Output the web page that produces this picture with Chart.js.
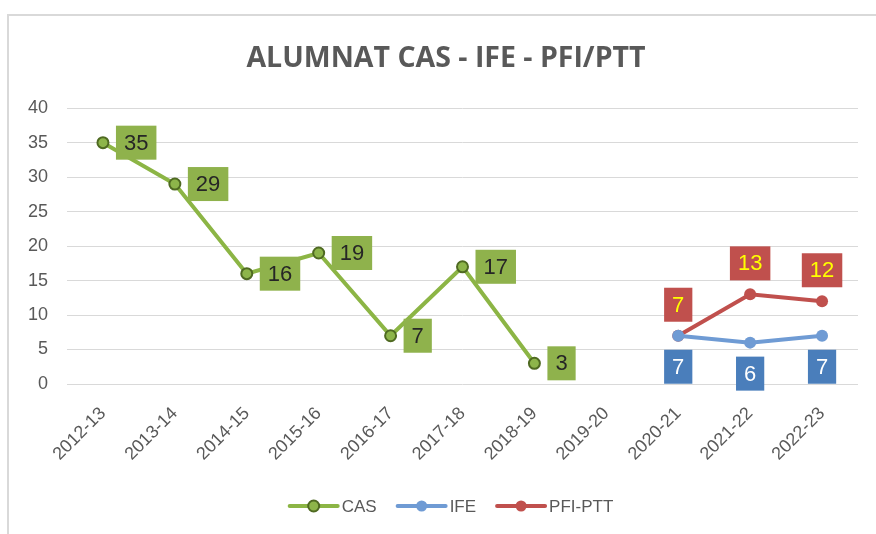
<!DOCTYPE html>
<html>
<head>
<meta charset="utf-8">
<script src="https://cdn.jsdelivr.net/npm/chart.js@4/dist/chart.umd.min.js"></script>
<style>
  html, body { margin: 0; padding: 0; background: #ffffff; overflow: hidden; }
  #frame { position: absolute; left: 7px; top: 14px; width: 900px; height: 600px; border: 2px solid #d9d9d9; box-sizing: border-box; }
  #wrap { position: absolute; left: 0; top: 0; width: 876px; height: 534px; }
</style>
</head>
<body>
<div id="frame"></div>
<div id="wrap"><canvas id="c" width="876" height="534"></canvas></div>
<script>
const categories = ['2012-13','2013-14','2014-15','2015-16','2016-17','2017-18','2018-19','2019-20','2020-21','2021-22','2022-23'];
const casValues = [35, 29, 16, 19, 7, 17, 3, null, null, null, null];
const ifeValues = [null, null, null, null, null, null, null, null, 7, 6, 7];
const pfiValues = [null, null, null, null, null, null, null, null, 7, 13, 12];
const yTicks = [0, 5, 10, 15, 20, 25, 30, 35, 40];

const GRAY = '#595959';
const FONT = '"Liberation Sans", Arial, sans-serif';

const seriesStyle = [
  { line: '#8cb545', fill: '#8db54a', stroke: '#4f6a22', label: { pos: 'right', bg: '#8fb24c', color: '#262626' } },
  { line: '#6f9bd4', fill: '#6f9bd4', stroke: null, label: { pos: 'below', bg: '#4a7ebb', color: '#ffffff' } },
  { line: '#c0504d', fill: '#c0504d', stroke: null, label: { pos: 'above', bg: '#c0504d', color: '#ffff00' } }
];

const dataLabelPlugin = {
  id: 'boxLabels',
  afterDatasetsDraw(chart) {
    const ctx = chart.ctx;
    ctx.save();
    ctx.font = '22px ' + FONT;
    ctx.textBaseline = 'middle';
    ctx.textAlign = 'center';
    chart.data.datasets.forEach((ds, di) => {
      const meta = chart.getDatasetMeta(di);
      const st = seriesStyle[di].label;
      meta.data.forEach((pt, i) => {
        const v = ds.data[i];
        if (v === null || v === undefined) return;
        const txt = String(v);
        const w = ctx.measureText(txt).width + 16;
        const h = 34;
        let bx, by;
        if (st.pos === 'right') { bx = pt.x + 13; by = pt.y - h / 2; }
        else if (st.pos === 'above') { bx = pt.x - w / 2; by = pt.y - 14 - h; }
        else { bx = pt.x - w / 2; by = pt.y + 14; }
        ctx.fillStyle = st.bg;
        ctx.fillRect(bx, by, w, h);
        ctx.fillStyle = st.color;
        ctx.fillText(txt, bx + w / 2, by + h / 2 + 1);
      });
    });
    ctx.restore();
  }
};

const legendPlugin = {
  id: 'customLegend',
  afterDraw(chart) {
    const ctx = chart.ctx;
    ctx.save();
    ctx.font = '17px ' + FONT;
    ctx.textBaseline = 'middle';
    ctx.textAlign = 'left';
    const iconW = 50, gap = 3, itemGap = 20;
    const items = chart.data.datasets.map(ds => ({ text: ds.label, w: ctx.measureText(ds.label).width }));
    const total = items.reduce((a, it) => a + iconW + gap + it.w, 0) + itemGap * (items.length - 1);
    let x = 451 - total / 2;
    const y = 506;
    items.forEach((it, i) => {
      const s = seriesStyle[i];
      ctx.strokeStyle = s.line; ctx.lineWidth = 4; ctx.lineCap = 'round';
      ctx.beginPath(); ctx.moveTo(x + 1, y); ctx.lineTo(x + iconW - 1, y); ctx.stroke();
      ctx.beginPath(); ctx.arc(x + iconW / 2, y, 5.5, 0, Math.PI * 2);
      ctx.fillStyle = s.fill; ctx.fill();
      if (s.stroke) { ctx.lineWidth = 2; ctx.strokeStyle = s.stroke; ctx.stroke(); }
      ctx.fillStyle = GRAY;
      ctx.fillText(it.text, x + iconW + gap, y + 1);
      x += iconW + gap + it.w + itemGap;
    });
    ctx.restore();
  }
};

new Chart(document.getElementById('c'), {
  type: 'line',
  data: {
    labels: categories,
    datasets: [
      { label: 'CAS', data: casValues, borderColor: seriesStyle[0].line, borderWidth: 4,
        pointRadius: 5.5, pointBackgroundColor: seriesStyle[0].fill, pointBorderColor: seriesStyle[0].stroke, pointBorderWidth: 2,
        spanGaps: false, tension: 0 },
      { label: 'IFE', data: ifeValues, borderColor: seriesStyle[1].line, borderWidth: 4,
        pointRadius: 6, pointBackgroundColor: seriesStyle[1].fill, pointBorderWidth: 0, tension: 0 },
      { label: 'PFI-PTT', data: pfiValues, borderColor: seriesStyle[2].line, borderWidth: 4,
        pointRadius: 6, pointBackgroundColor: seriesStyle[2].fill, pointBorderWidth: 0, tension: 0 }
    ]
  },
  options: {
    responsive: false,
    animation: false,
    events: [],
    layout: { padding: { left: 16, right: 0, top: 30, bottom: 58 } },
    plugins: {
      title: {
        display: true,
        text: 'ALUMNAT CAS - IFE - PFI/PTT',
        color: GRAY,
        font: { family: '"Open Sans", "Liberation Sans", sans-serif', size: 28.5, weight: 'bold' },
        padding: { top: 12, bottom: 32 }
      },
      legend: { display: false },
      tooltip: { enabled: false }
    },
    scales: {
      x: {
        offset: true,
        grid: { display: false, drawTicks: false },
        border: { display: false },
        ticks: {
          color: GRAY, minRotation: 45, maxRotation: 45, padding: 19, autoSkip: false,
          font: { family: FONT, size: 18 }
        },
        afterFit(s) { s.height = 92; }
      },
      y: {
        min: 0, max: 40,
        afterBuildTicks(s) { s.ticks = yTicks.map(v => ({ value: v })); },
        grid: { color: '#d9d9d9', lineWidth: 1, drawTicks: false },
        border: { display: false },
        ticks: {
          color: GRAY, padding: 19,
          font: { family: FONT, size: 18 }
        },
        afterFit(s) { s.width = 51; }
      },
      yRight: {
        position: 'right',
        display: true,
        min: 0, max: 40,
        grid: { display: false, drawTicks: false },
        border: { display: false },
        ticks: { display: false },
        afterFit(s) { s.width = 18; }
      }
    }
  },
  plugins: [dataLabelPlugin, legendPlugin]
});
</script>
</body>
</html>
